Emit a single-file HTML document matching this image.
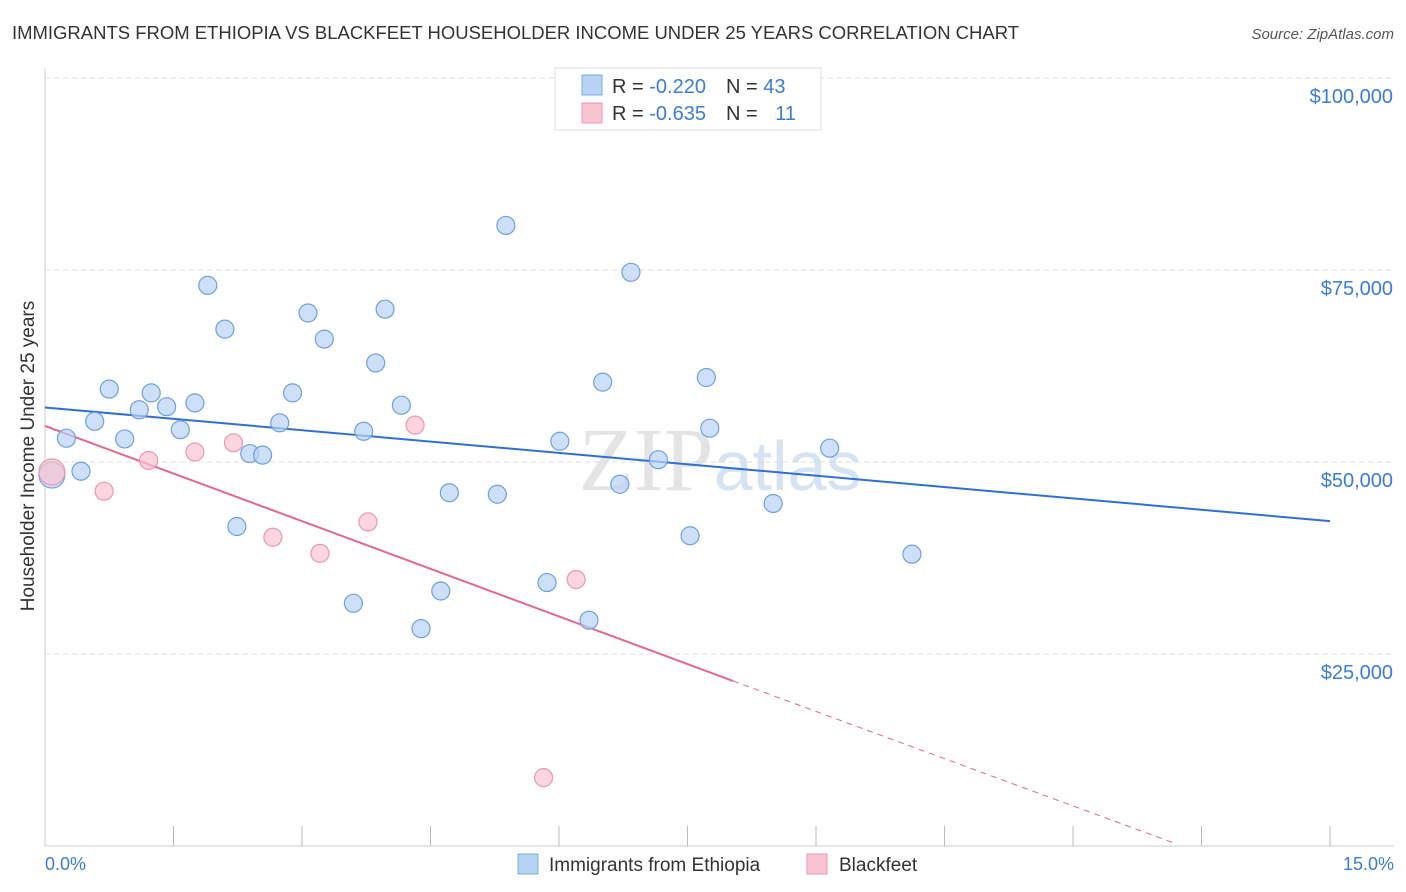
<!DOCTYPE html>
<html><head><meta charset="utf-8"><style>
body{margin:0;background:#fff;font-family:"Liberation Sans",sans-serif;}
svg{display:block}
</style></head><body>
<svg id="chart" width="1406" height="892" xmlns="http://www.w3.org/2000/svg">
<text x="12" y="39" font-size="18" fill="#333" textLength="1007" lengthAdjust="spacingAndGlyphs">IMMIGRANTS FROM ETHIOPIA VS BLACKFEET HOUSEHOLDER INCOME UNDER 25 YEARS CORRELATION CHART</text>
<text x="1394" y="39" font-size="15" fill="#555" font-style="italic" text-anchor="end">Source: ZipAtlas.com</text>
<text x="720" y="490" font-size="90" fill="#e4e4e4" text-anchor="middle" font-family="Liberation Serif">ZIP<tspan fill="#d5e3f3" font-family="Liberation Sans" font-size="70">atlas</tspan></text>
<g id="grid"></g>
<line x1="45" y1="68" x2="45" y2="846" stroke="#ccc"/>
<line x1="45" y1="846" x2="1394" y2="846" stroke="#ccc"/>
<g id="xticks"></g>
<text x="28" y="456" font-size="19" fill="#333" text-anchor="middle" transform="rotate(-90 28 456)" dy="6">Householder Income Under 25 years</text>
<text x="45" y="870" font-size="18" fill="#3d7bd9">0.0%</text>
<text x="1394" y="870" font-size="18" fill="#3d7bd9" text-anchor="end">15.0%</text>
<g id="lines"></g>
<g id="points"></g>
<g>
<rect x="555" y="68" width="266" height="62" fill="#fff" stroke="#ddd"/>
<rect x="582" y="75" width="20" height="20" fill="#b9d3f5" stroke="#7aa9e8"/>
<text x="612" y="93" font-size="20" fill="#333">R = <tspan fill="#3d7bd9">-0.220</tspan><tspan dx="20">N = </tspan><tspan fill="#3d7bd9">43</tspan></text>
<rect x="582" y="103" width="20" height="20" fill="#f9c5d3" stroke="#eb97ae"/>
<text x="612" y="120" font-size="20" fill="#333">R = <tspan fill="#3d7bd9">-0.635</tspan><tspan dx="20">N = </tspan><tspan fill="#3d7bd9" dx="12">11</tspan></text>
</g>
<g>
<rect x="518" y="854" width="20" height="20" fill="#b9d3f5" stroke="#7aa9e8"/>
<text x="549" y="871" font-size="19" fill="#333">Immigrants from Ethiopia</text>
<rect x="807" y="854" width="20" height="20" fill="#f9c5d3" stroke="#eb97ae"/>
<text x="839" y="871" font-size="19" fill="#333">Blackfeet</text>
</g>
</svg>
<script>
const yTicks=[25000,50000,75000,100000];
const yTickLabels=["$25,000","$50,000","$75,000","$100,000"];
const ethX=[0.08,0.25,0.42,0.58,0.75,0.93,1.1,1.24,1.42,1.58,1.75,1.9,2.1,2.24,2.39,2.54,2.74,2.89,3.07,3.26,3.6,3.72,3.86,3.97,4.16,4.39,4.62,4.72,5.28,5.38,5.86,6.01,6.35,6.51,6.71,6.84,7.16,7.53,7.72,7.76,8.5,9.16,10.12];
const ethY=[48300,53100,48800,55300,59500,53000,56800,59000,57200,54200,57700,73000,67300,41600,51100,50900,55100,59000,69400,66000,31600,54000,62900,69900,57400,28300,33200,46000,45800,80800,34300,52700,29400,60400,47100,74700,50300,40400,61000,54400,44600,51800,38000];
const bfX=[0.08,0.69,1.21,1.75,2.2,2.66,3.21,3.77,4.32,5.82,6.2];
const bfY=[48700,46200,50200,51300,52500,40200,38100,42200,54800,8900,34700];
const ethTrend=[[0,57100],[15,42300]];
const bfTrend=[[0,54700],[8.03,21500],[13.2,300]];
const X0=45,X1=1330,YB=846,YPX=192/25000;
const sx=v=>X0+(v/15)*(X1-X0);
const sy=v=>YB-v*YPX;
const NS="http://www.w3.org/2000/svg";
function mk(t,a,p){const e=document.createElementNS(NS,t);for(const k in a)e.setAttribute(k,a[k]);document.getElementById(p).appendChild(e);return e;}
yTicks.forEach((v,i)=>{
 const l=mk('line',{x1:45,x2:1394,y1:sy(v),y2:sy(v),stroke:'#ddd','stroke-dasharray':'5,4'},'grid');
 
 
 const t=mk('text',{x:1393,y:sy(v)+25,'font-size':20,fill:'#3d7bd9','text-anchor':'end'},'grid');
 t.textContent=yTickLabels[i];
 
 
});
for(let i=1;i<=10;i++){
 const l=mk('line',{x1:sx(i*1.5),x2:sx(i*1.5),y1:826,y2:846,stroke:'#bbb'},'xticks');
 
 
}
let l1=mk('line',{x1:sx(ethTrend[0][0]),y1:sy(ethTrend[0][1]),x2:sx(ethTrend[1][0]),y2:sy(ethTrend[1][1]),stroke:'#2f6fd6','stroke-width':2},'lines');


let l2=mk('line',{x1:sx(bfTrend[0][0]),y1:sy(bfTrend[0][1]),x2:sx(bfTrend[1][0]),y2:sy(bfTrend[1][1]),stroke:'#e5668e','stroke-width':2},'lines');


let l3=mk('line',{x1:sx(bfTrend[1][0]),y1:sy(bfTrend[1][1]),x2:sx(bfTrend[2][0]),y2:sy(bfTrend[2][1]),stroke:'#e5668e','stroke-width':1,'stroke-dasharray':'6,5'},'lines');


ethX.forEach((x,i)=>{
 const c=mk('circle',{cx:sx(x),cy:sy(ethY[i]),r:i==0?13:9,fill:'#b9d3f5','fill-opacity':0.7,stroke:'#6d9fe3','stroke-width':1.2},'points');
 
 
});
bfX.forEach((x,i)=>{
 const c=mk('circle',{cx:sx(x),cy:sy(bfY[i]),r:i==0?13:9,fill:'#f9c5d3','fill-opacity':0.7,stroke:'#eb97ae','stroke-width':1.2},'points');
 
 
});
</script>
</body></html>
